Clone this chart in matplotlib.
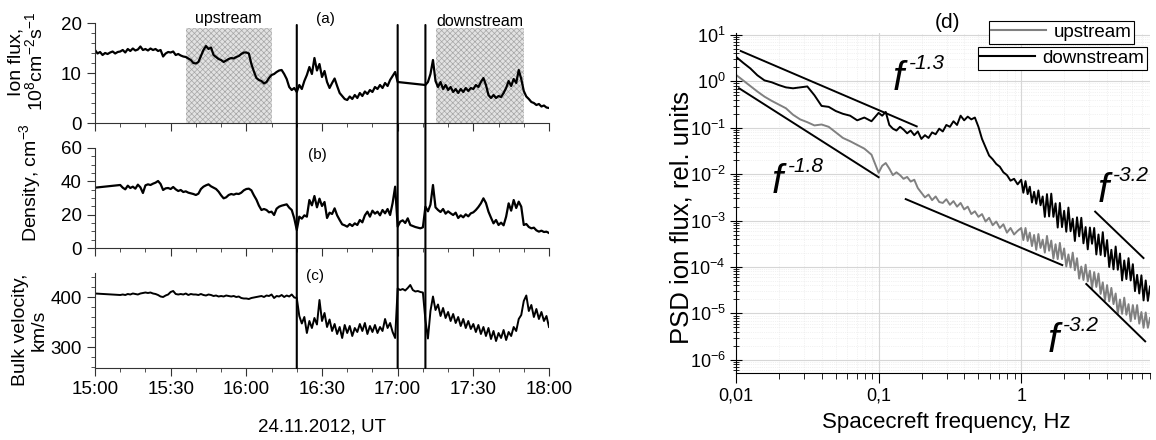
import matplotlib
matplotlib.use("Agg")
import matplotlib.pyplot as plt
import numpy as np
from matplotlib.lines import Line2D
from matplotlib.patches import ConnectionPatch
from matplotlib.ticker import MultipleLocator, LogLocator, NullFormatter

plt.rcParams.update({
    "font.family": ["Liberation Sans", "DejaVu Sans"],
    "mathtext.fontset": "custom",
    "mathtext.rm": "Liberation Sans",
    "mathtext.it": "Liberation Sans:italic",
    "mathtext.bf": "Liberation Sans:bold",
    "hatch.linewidth": 0.5,
})

# ---------------- time series (minutes after 15:00 UT) ----------------
t_flux = list(range(0, 121)) + list(range(131, 181))
ion_flux = [
    14.6, 13.9, 14.2, 13.6, 14.0, 13.8, 14.1, 14.3, 13.9, 14.2,
    14.3, 14.6, 14.1, 14.8, 14.4, 14.9, 14.5, 14.7, 15.3, 14.6,
    14.8, 14.5, 14.9, 14.6, 14.8, 14.4, 14.6, 13.3, 13.9, 14.2,
    14.1, 14.3, 13.6, 13.8, 13.5, 13.3, 13.2, 12.9, 12.6, 12.0,
    11.9, 12.2, 13.4, 14.6, 15.4, 14.8, 15.1, 13.6, 13.2, 12.8,
    12.6, 12.2, 12.5, 12.8, 13.0, 12.9, 13.2, 13.4, 13.8, 14.1,
    14.1, 13.9, 11.8, 10.3, 9.0, 8.6, 8.4, 7.9, 8.2, 9.0,
    9.6, 9.8, 10.2, 10.5, 10.6, 9.8, 8.8, 7.2, 6.6, 7.0,
    6.2, 7.6, 6.8, 8.4, 9.6, 11.2, 9.8, 13.0, 10.5, 11.8,
    9.2, 10.4, 8.2, 7.0, 8.0, 8.9, 7.4, 6.0, 5.4, 4.8,
    4.6, 5.3, 4.8, 5.6, 5.0, 6.0, 5.4, 6.3, 5.8, 6.6,
    6.2, 7.2, 6.8, 7.6, 7.0, 8.0, 7.4, 8.6, 9.4, 10.2,
    8.2,
    7.6, 8.2, 9.8, 12.6, 8.4, 7.2, 8.2, 6.8, 7.6, 6.6,
    7.2, 6.2, 6.8, 6.0, 6.8, 6.2, 7.0, 6.4, 7.0, 6.8,
    7.6, 7.2, 8.2, 9.0, 7.6, 5.6, 5.0, 5.6, 5.0, 5.4,
    5.2, 6.0, 7.0, 8.4, 7.4, 8.8, 8.0, 10.6, 8.8, 6.4,
    5.3, 4.8, 4.2, 4.0, 3.6, 3.8, 3.3, 3.5, 3.1, 3.0,
]

t_plasma = [0] + list(range(10, 181))
density = [
    36.2,
    37.8, 36.2, 35.2, 37.4, 36.0, 36.8, 35.6, 38.0, 36.4, 33.0,
    37.6, 38.2, 37.8, 38.6, 39.2, 40.2, 38.4, 34.8, 35.8, 36.0,
    35.4, 36.6, 35.2, 34.2, 34.8, 33.6, 34.0, 33.2, 32.8, 32.4,
    31.8, 32.6, 35.4, 36.8, 37.6, 38.2, 37.0, 36.2, 35.4, 33.8,
    31.6, 29.8, 30.4, 31.8, 32.4, 32.0, 32.6, 32.4, 33.2, 34.6,
    35.4, 35.6, 34.6, 31.6, 29.0, 25.4, 22.8, 23.4, 22.8, 21.4,
    21.8, 19.8, 23.6, 24.8, 25.4, 25.8, 26.2, 24.2, 22.8, 17.8,
    10.8, 18.8, 17.6, 19.6, 18.8, 28.8, 25.6, 31.2, 24.4, 29.6,
    25.2, 27.6, 18.0, 21.2, 20.4, 23.8, 19.6, 16.8, 14.2, 13.6,
    12.8, 14.4, 13.2, 14.8, 13.8, 16.8, 15.4, 19.6, 21.8, 18.8,
    22.4, 20.6, 21.8, 19.6, 22.8, 20.8, 23.4, 19.8, 27.0, 36.8,
    12.8, 15.8, 16.6, 15.0, 17.8, 13.8, 13.2, 12.6, 12.2, 11.8, 12.4,
    24.8, 22.0, 26.0, 37.8, 24.4, 22.8, 21.6, 23.4, 20.6, 22.0,
    20.8, 19.8, 21.2, 18.0, 19.6, 18.4, 20.2, 19.0, 20.8, 21.4,
    22.8, 24.6, 26.8, 29.8, 27.0, 21.8, 18.2, 14.8, 16.8, 13.8,
    15.2, 13.6, 18.8, 26.8, 22.4, 28.8, 24.0, 27.8, 24.8, 13.8,
    14.4, 12.6, 11.8, 12.2, 10.6, 9.8, 10.4, 9.6, 9.8, 9.0,
]
velocity = [
    407,
    404, 405, 404, 406, 405, 407, 406, 405, 407, 408,
    409, 408, 409, 407, 406, 404, 401, 400, 403, 405,
    410, 412, 406, 405, 406, 405, 407, 404, 406, 405,
    405, 404, 406, 404, 403, 405, 404, 402, 403, 401,
    402, 401, 403, 402, 401, 402, 400, 401, 398, 397,
    397, 396, 398, 399, 400, 401, 402, 400, 403, 402,
    405, 398, 402, 401, 404, 400, 403, 401, 405, 399,
    398, 362, 347, 360, 328, 352, 338, 358, 345, 394,
    352, 368, 340, 355, 332, 346, 326, 340, 318, 344,
    328, 342, 322, 338, 330, 346, 332, 348, 326, 342,
    330, 344, 328, 340, 332, 356, 338, 348, 330, 318,
    417, 414, 416, 413, 418, 424, 414, 411, 412, 410, 409,
    354, 317, 372, 401, 374, 385, 362, 378, 358, 370,
    352, 366, 348, 360, 342, 356, 338, 352, 336, 346,
    330, 344, 326, 340, 322, 338, 316, 332, 312, 328,
    318, 334, 314, 330, 322, 340, 332, 356, 364, 392,
    403, 372, 384, 360, 376, 356, 370, 352, 362, 340,
]

boundaries = [80, 120, 131]          # 16:20, 17:00, 17:11
upstream_span = [36, 70]
downstream_span = [135, 170]
time_ticks = [0, 30, 60, 90, 120, 150, 180]
time_labels = ["15:00", "15:30", "16:00", "16:30", "17:00", "17:30", "18:00"]

# ---------------- spectra (log10 of PSD) ----------------
freq = np.concatenate([np.geomspace(0.01, 0.1, 21)[:-1],
                       np.geomspace(0.1, 1, 41)[:-1],
                       np.geomspace(1, 8, 61)])
psd_down_log = [
    0.53, 0.40, 0.28, 0.13, 0.02, -0.02, -0.08, -0.13, -0.15, -0.13,
    -0.11, -0.30, -0.53, -0.55, -0.64, -0.70, -0.74, -0.84, -0.78, -0.86,
    -0.68, -0.74, -0.66, -0.94, -1.02, -1.06, -0.98, -1.04, -1.12, -1.06,
    -1.16, -1.08, -1.24, -1.16, -1.22, -1.10, -1.14, -1.02, -1.08, -0.94,
    -0.98, -0.86, -0.94, -0.74, -0.84, -0.76, -0.82, -0.78, -0.98, -1.24,
    -1.42, -1.60, -1.68, -1.78, -1.84, -1.96, -2.02, -2.14, -2.10, -2.22,
    -2.12, -2.40, -2.15, -2.43, -2.27, -2.61, -2.38, -2.64, -2.35, -2.67,
    -2.48, -2.92, -2.43, -2.91, -2.42, -2.92, -2.63, -3.15, -2.62, -3.14,
    -2.79, -3.24, -2.72, -3.23, -2.96, -3.44, -2.93, -3.34, -2.94, -3.49,
    -3.14, -3.62, -3.15, -3.50, -3.16, -3.73, -3.30, -3.74, -3.25, -3.77,
    -3.42, -4.00, -3.63, -4.05, -3.56, -4.06, -3.71, -4.29, -3.86, -4.26,
    -3.81, -4.29, -3.94, -4.52, -4.17, -4.57, -4.18, -4.72, -4.29, -4.73,
    -4.42,
]
psd_up_log = [
    0.14, 0.02, -0.10, -0.22, -0.33, -0.42, -0.50, -0.58, -0.72, -0.82,
    -0.88, -0.95, -0.93, -0.98, -1.10, -1.22, -1.29, -1.37, -1.45, -1.58,
    -1.97, -1.82, -1.76, -1.88, -2.02, -1.96, -2.02, -2.10, -2.06, -2.16,
    -2.12, -2.30, -2.40, -2.50, -2.44, -2.56, -2.48, -2.60, -2.62, -2.54,
    -2.66, -2.58, -2.70, -2.62, -2.76, -2.70, -2.86, -2.80, -2.92, -2.86,
    -3.02, -2.94, -3.10, -3.02, -3.16, -3.08, -3.26, -3.16, -3.30, -3.22,
    -3.16, -3.42, -3.16, -3.44, -3.26, -3.55, -3.31, -3.63, -3.29, -3.59,
    -3.41, -3.69, -3.33, -3.65, -3.43, -3.82, -3.51, -3.83, -3.48, -3.83,
    -3.60, -3.99, -3.73, -4.01, -3.69, -4.07, -3.81, -4.25, -3.99, -4.28,
    -3.95, -4.31, -4.08, -4.46, -4.11, -4.43, -4.14, -4.58, -4.33, -4.72,
    -4.39, -4.74, -4.45, -4.80, -4.57, -5.01, -4.70, -5.01, -4.66, -5.03,
    -4.80, -5.17, -4.82, -5.12, -4.82, -5.22, -4.97, -5.31, -4.98, -5.31,
    -5.10,
]
psd_ticks = [1e-6, 1e-5, 1e-4, 1e-3, 1e-2, 1e-1, 1e0, 1e1]

# power-law guide lines: end points (frequency, PSD)
fit_f = [[0.0108, 0.185], [0.0105, 0.1], [0.155, 1.94], [3.3, 7.2], [2.86, 7.4]]
fit_p = [[4.5, 0.107], [0.71, 0.0086], [2.9e-3, 1.1e-4], [1.56e-3, 1.56e-4], [4.3e-5, 2.5e-6]]

W, H = 1156, 440


def box(x0, y0, x1, y1):
    return [x0 / W, 1 - y1 / H, (x1 - x0) / W, (y1 - y0) / H]


def fxy(x, y):
    return x / W, 1 - y / H


fig = plt.figure(figsize=(W / 100, H / 100), dpi=100)

ax_a = fig.add_axes(box(95, 23, 549, 123))
ax_b = fig.add_axes(box(95, 148, 549, 248))
ax_c = fig.add_axes(box(95, 273, 549, 368))
ax_d = fig.add_axes(box(736, 33, 1150, 373))

for ax in (ax_a, ax_b, ax_c):
    ax.spines["top"].set_visible(False)
    ax.spines["right"].set_visible(False)
    ax.spines["left"].set_color("#333333")
    ax.spines["bottom"].set_color("#333333")
    ax.set_xlim(0, 180)
    ax.set_xticks(time_ticks)
    ax.xaxis.set_minor_locator(MultipleLocator(10))
    ax.tick_params(which="major", direction="out", length=6, labelsize=13.5, color="#333333")
    ax.tick_params(which="minor", direction="out", length=3, color="#333333")
    ax.patch.set_alpha(0)

ax_a.set_xticklabels([])
ax_b.set_xticklabels([])
ax_c.set_xticklabels(time_labels)

ax_a.plot(t_flux, ion_flux, color="black", lw=1.6)
ax_a.set_ylim(0, 20)
ax_a.set_yticks([0, 10, 20])
ax_a.yaxis.set_minor_locator(MultipleLocator(2))
for span in (upstream_span, downstream_span):
    ax_a.axvspan(span[0], span[1], ymin=0, ymax=0.95, facecolor="#e2e2e2",
                 edgecolor="#a6a6a6", hatch="xxxxxx", linewidth=0, zorder=0)

ax_b.plot(t_plasma, density, color="black", lw=1.6)
ax_b.set_ylim(0, 60)
ax_b.set_yticks([0, 20, 40, 60])
ax_b.yaxis.set_minor_locator(MultipleLocator(5))

ax_c.plot(t_plasma, velocity, color="black", lw=1.4)
ax_c.set_ylim(258, 448)
ax_c.set_yticks([300, 400])
ax_c.yaxis.set_minor_locator(MultipleLocator(20))

for tb in boundaries:
    con = ConnectionPatch(xyA=(tb, 19.6), coordsA=ax_a.transData,
                          xyB=(tb, 258), coordsB=ax_c.transData,
                          color="black", lw=1.5)
    fig.add_artist(con)

fig.text(*fxy(228, 18), "upstream", ha="center", va="center", fontsize=11.5)
fig.text(*fxy(480, 21), "downstream", ha="center", va="center", fontsize=11.5)
fig.text(*fxy(325, 19), "(a)", ha="center", va="center", fontsize=11)
fig.text(*fxy(317, 155), "(b)", ha="center", va="center", fontsize=11)
fig.text(*fxy(315, 276), "(c)", ha="center", va="center", fontsize=11)

fig.text(*fxy(27, 62), "Ion flux,\n$10^{8}$cm$^{-2}$s$^{-1}$", rotation=90,
         ha="center", va="center", fontsize=14, multialignment="center", linespacing=1.0)
fig.text(*fxy(30, 183), "Density, cm$^{-3}$", rotation=90,
         ha="center", va="center", fontsize=14)
fig.text(*fxy(30, 330), "Bulk velocity,\nkm/s", rotation=90,
         ha="center", va="center", fontsize=14, multialignment="center", linespacing=1.1)
fig.text(*fxy(322, 427), "24.11.2012, UT", ha="center", va="center", fontsize=13.5)

# ---------------- spectrum panel ----------------
ax_d.set_xscale("log")
ax_d.set_yscale("log")
ax_d.plot(freq, 10 ** np.array(psd_up_log), color="#808080", lw=1.4)
ax_d.plot(freq, 10 ** np.array(psd_down_log), color="black", lw=1.4)
for ff, pp in zip(fit_f, fit_p):
    ax_d.plot(ff, pp, color="black", lw=1.4)

ax_d.set_xlim(0.01, 8)
ax_d.set_ylim(5.2e-7, 11)
ax_d.set_xticks([0.01, 0.1, 1])
ax_d.set_xticklabels(["0,01", "0,1", "1"])
ax_d.xaxis.set_minor_locator(LogLocator(base=10, subs=np.arange(2, 10)))
ax_d.xaxis.set_minor_formatter(NullFormatter())
ax_d.set_yticks(psd_ticks)
ax_d.yaxis.set_minor_locator(LogLocator(base=10, subs=np.arange(2, 10), numticks=12))
ax_d.yaxis.set_minor_formatter(NullFormatter())
ax_d.spines["top"].set_visible(False)
ax_d.spines["right"].set_visible(False)
ax_d.tick_params(axis="x", which="major", direction="out", length=7, labelsize=13)
ax_d.tick_params(axis="x", which="minor", direction="out", length=4)
ax_d.tick_params(axis="y", which="major", direction="inout", length=8, labelsize=13)
ax_d.tick_params(axis="y", which="minor", direction="inout", length=4)
ax_d.grid(which="major", color="#d6d6d6", lw=0.8)
ax_d.grid(which="minor", color="#e6e6e6", lw=0.5, linestyle=":")
ax_d.set_axisbelow(True)

# power-law labels
for (fx, fy), sup in [((0.1253, 0.656), "-1.3"), ((0.0179, 0.0040), "-1.8"),
                      ((3.42, 0.00257), "-3.2"), ((1.52, 1.45e-6), "-3.2")]:
    ax_d.text(fx, fy, "f", fontsize=29, style="italic", ha="left", va="baseline")
    ax_d.annotate(sup, xy=(fx, fy), xytext=(16, 21), textcoords="offset pixels",
                  fontsize=15, style="italic", ha="left", va="baseline")

fig.text(*fxy(948, 22), "(d)", ha="center", va="center", fontsize=15)
fig.text(*fxy(681, 218), "PSD ion flux, rel. units", rotation=90,
         ha="center", va="center", fontsize=18.5)
fig.text(*fxy(946, 422), "Spacecreft frequency, Hz", ha="center", va="center", fontsize=16)

leg_kw = dict(loc="upper right", bbox_transform=fig.transFigure, fontsize=13.5,
              fancybox=False, edgecolor="black", framealpha=1, borderpad=0.15,
              handlelength=2.9, handletextpad=0.4, borderaxespad=0)
leg1 = ax_d.legend([Line2D([], [], color="#808080", lw=1.5)], ["upstream"],
                   bbox_to_anchor=fxy(1134, 21), **leg_kw)
leg1.get_frame().set_linewidth(0.8)
ax_d.add_artist(leg1)
leg2 = ax_d.legend([Line2D([], [], color="black", lw=1.5)], ["downstream"],
                   bbox_to_anchor=fxy(1147, 47), **leg_kw)
leg2.get_frame().set_linewidth(0.8)

fig.savefig("out.png", dpi=100)
